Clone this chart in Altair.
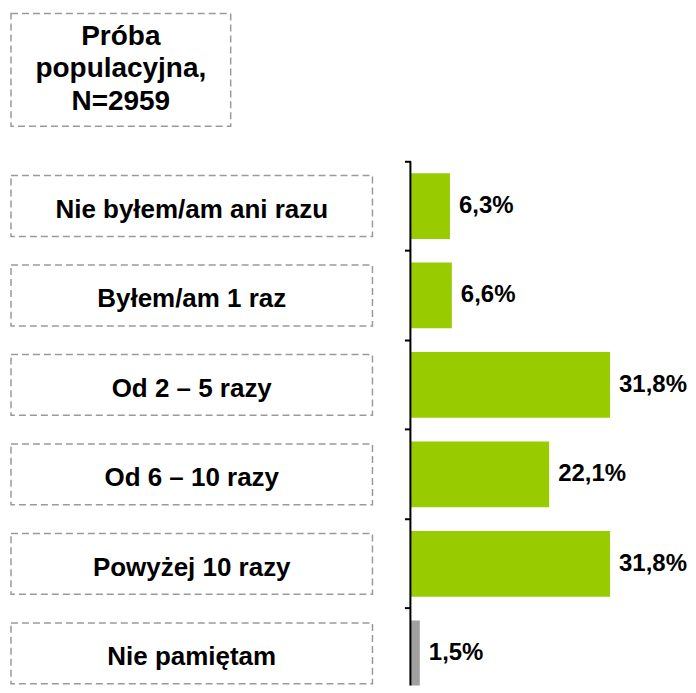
import altair as alt
import pandas as pd

categories = ["Nie byłem/am ani razu", "Byłem/am 1 raz", "Od 2 – 5 razy",
              "Od 6 – 10 razy", "Powyżej 10 razy", "Nie pamiętam"]
values = [6.3, 6.6, 31.8, 22.1, 31.8, 1.5]
title_lines = ["Próba", "populacyjna,", "N=2959"]

df = pd.DataFrame({"category": categories, "value": values})
df["label"] = [f"{v:.1f}".replace(".", ",") + "%" for v in values]

FONT = "Liberation Sans"
GREEN = "#99CC00"
GRAY = "#A0A0A0"
BOX = "#9A9A9A"
DASH = [7, 4]

STEP = 89.6
H = 525
yscale = alt.Scale(domain=categories, range=[0, STEP * 6], paddingInner=0, paddingOuter=0)
unit = alt.Scale(domain=[0, 1])

# Title box
title_df = pd.DataFrame({"t": ["\n".join(title_lines)]})
title = alt.Chart(title_df).mark_text(
    font=FONT, fontSize=28, fontWeight="bold", lineBreak="\n", lineHeight=32.5,
    align="center", baseline="middle", color="black", dy=-33
).encode(
    x=alt.X(datum=0.5, scale=unit, axis=None),
    y=alt.Y(datum=0.5, scale=unit, axis=None),
    text="t:N",
).properties(width=220, height=113,
             view=alt.ViewBackground(stroke=BOX, strokeDash=DASH, strokeWidth=1.5))

# Left: category boxes
left_base = alt.Chart(df).encode(y=alt.Y("category:N", scale=yscale, axis=None))
boxes = left_base.mark_bar(
    height={"band": 0.68}, fill="white", stroke=BOX, strokeDash=DASH, strokeWidth=1.5
).encode(
    x=alt.X(datum=0, scale=unit, axis=None),
    x2=alt.X2(datum=1),
)
names = left_base.mark_text(
    font=FONT, fontSize=26, fontWeight="bold", color="black", align="center",
    baseline="middle", dy=4
).encode(
    x=alt.X(datum=0.5, scale=unit, axis=None),
    text="category:N",
)
left = alt.layer(boxes, names).properties(width=362, height=H)

# Right: bars
right_base = alt.Chart(df).encode(
    y=alt.Y("category:N", scale=yscale,
            axis=alt.Axis(labels=False, domain=False, ticks=True, tickSize=6, tickWidth=2,
                          tickColor="black", bandPosition=0, title=None, grid=False))
)
bars = right_base.mark_bar(height={"band": 0.735}, clip=True).encode(
    x=alt.X("value:Q", scale=alt.Scale(domain=[0, 43.9], nice=False), axis=None),
    color=alt.condition(alt.datum.category == categories[-1], alt.value(GRAY), alt.value(GREEN)),
)
vals = right_base.mark_text(
    align="left", baseline="middle", dx=9, font=FONT, fontSize=24, fontWeight="bold", color="black"
).encode(x="value:Q", text="label:N")
axis_line = alt.Chart(pd.DataFrame({"a": [0]})).mark_rule(color="black", strokeWidth=2).encode(
    x=alt.value(0), y=alt.value(0), y2=alt.value(H)
)
right = alt.layer(bars, vals, axis_line).properties(width=276, height=H)

row = alt.hconcat(left, right, spacing=38, bounds="flush").resolve_scale(x="independent", y="independent")
chart = alt.vconcat(title, row, spacing=35, bounds="flush").resolve_scale(
    x="independent", y="independent"
).properties(
    padding={"left": 1, "top": 4, "right": 0, "bottom": 0}, background="white"
).configure_view(stroke="transparent")

chart.save("out.html", embed_options={"renderer": "svg", "actions": False})
